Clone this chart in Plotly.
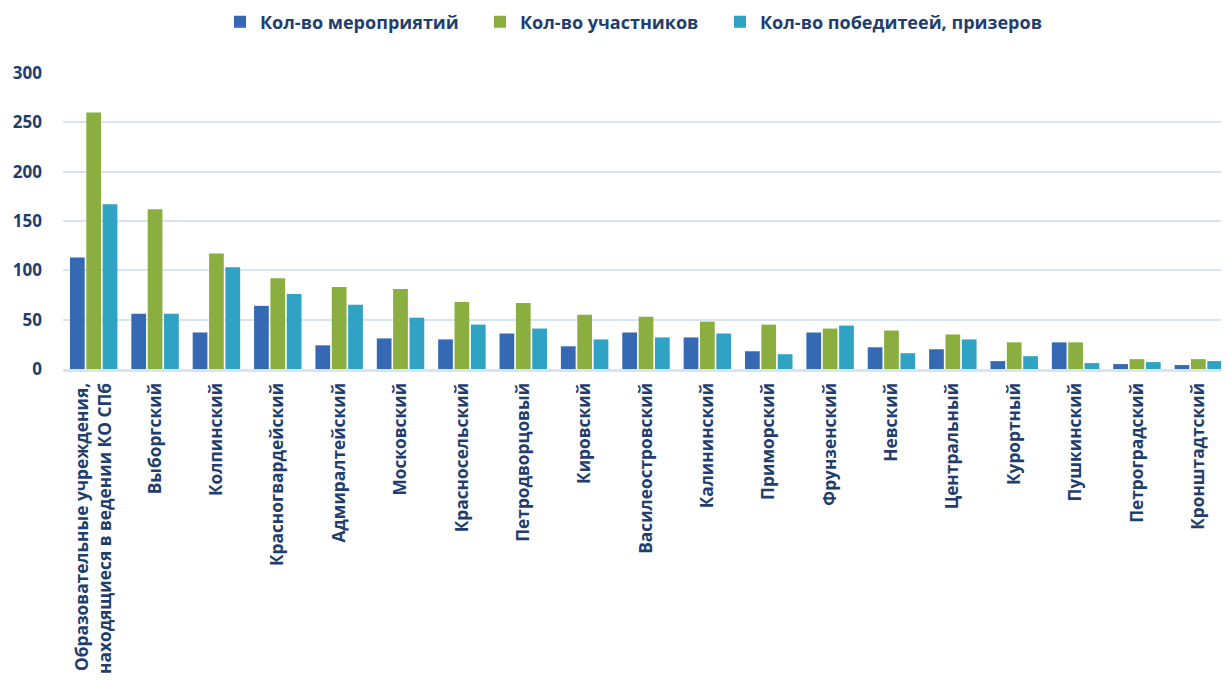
import plotly.graph_objects as go

categories = [
    "Образовательные учреждения,<br>находящиеся в ведении КО СПб",
    "Выборгский", "Колпинский", "Красногвардейский", "Адмиралтейский",
    "Московский", "Красносельский", "Петродворцовый", "Кировский",
    "Василеостровский", "Калининский", "Приморский", "Фрунзенский",
    "Невский", "Центральный", "Курортный", "Пушкинский",
    "Петроградский", "Кронштадтский",
]
events = [113, 56, 37, 64, 24, 31, 30, 36, 23, 37, 32, 18, 37, 22, 20, 8, 27, 5, 4]
participants = [260, 162, 117, 92, 83, 81, 68, 67, 55, 53, 48, 45, 41, 39, 35, 27, 27, 10, 10]
winners = [167, 56, 103, 76, 65, 52, 45, 41, 30, 32, 36, 15, 44, 16, 30, 13, 6, 7, 8]

series_names = ["Кол-во мероприятий", "Кол-во участников", "Кол-во победитеей, призеров"]
series_colors = ["#3669b3", "#8aae40", "#30a2c3"]
y_ticks = [0, 50, 100, 150, 200, 250, 300]

text_color = "#1f3e6e"

# the page body adds an 8px offset, so the figure is sized to fit inside it
W, H = 1221, 672
legend_ids = ["legend", "legend2", "legend3"]
legend_x = [229, 489, 729]  # left edges of the legend entries (figure px)

fig = go.Figure()
for name, vals, col, lid in zip(series_names, [events, participants, winners], series_colors, legend_ids):
    fig.add_trace(go.Bar(
        x=categories, y=vals, name=name, legend=lid,
        marker=dict(color=col, line=dict(width=0)),
    ))

legend_font = dict(family="Open Sans, sans-serif", size=18, color=text_color, weight="bold")
legend_layout = {}
for lid, lx in zip(legend_ids, legend_x):
    legend_layout[lid] = dict(
        orientation="h", xref="container", x=(lx - 17) / W, xanchor="left",
        yref="container", y=1 - 14 / H, yanchor="middle",
        font=legend_font, itemwidth=30, bgcolor="rgba(0,0,0,0)",
    )

fig.update_layout(
    width=W, height=H,
    margin=dict(l=55, r=0, t=65, b=311, autoexpand=False),
    paper_bgcolor="white", plot_bgcolor="white",
    barmode="group", bargap=0.2, bargroupgap=0.1,
    font=dict(family="Open Sans, sans-serif", color=text_color),
    showlegend=True,
    **legend_layout,
)
fig.update_yaxes(
    range=[0, 300], tickvals=y_ticks, automargin=False,
    showgrid=True, gridcolor="#d9e4f2", gridwidth=2,
    zeroline=False, showline=False,
    tickfont=dict(family="Open Sans, sans-serif", size=17, color=text_color, weight="bold"),
    ticklabelstandoff=20,
)
fig.update_xaxes(
    tickangle=-90, showline=True, linecolor="#d9e4f2", linewidth=3,
    automargin=False,
    tickfont=dict(family="Open Sans, sans-serif", size=17.3, color=text_color, weight="bold"),
    ticklabelstandoff=4,
)

fig.write_html("out.html")
